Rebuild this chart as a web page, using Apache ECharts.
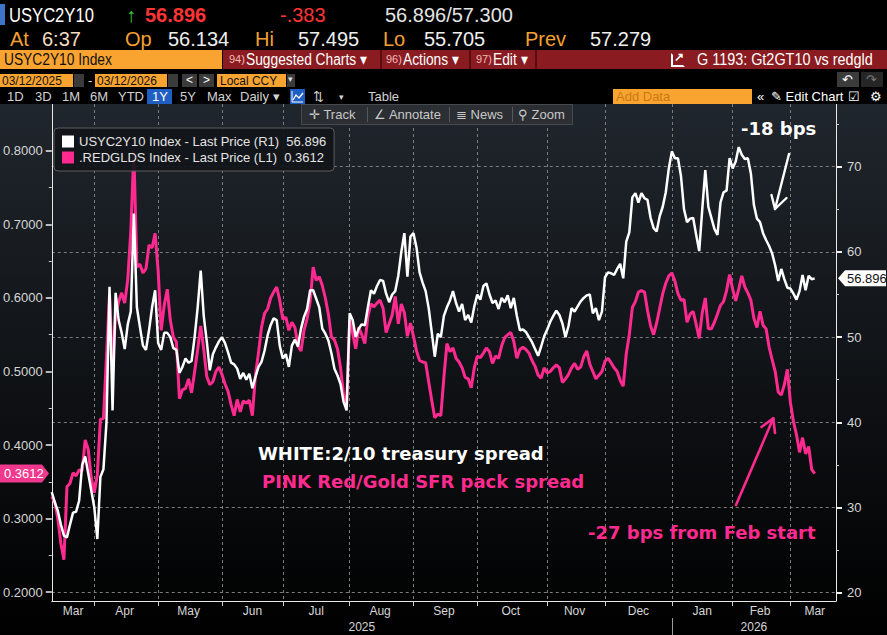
<!DOCTYPE html>
<html>
<head>
<meta charset="utf-8">
<title>USYC2Y10 vs REDGLDS</title>
<script src="https://cdn.jsdelivr.net/npm/echarts@6/dist/echarts.min.js"></script>
<style>
  html, body { margin: 0; padding: 0; background: #000; }
  body { width: 887px; height: 635px; position: relative; overflow: hidden;
         font-family: 'Liberation Sans', Arial, sans-serif; }
  .t { position: absolute; white-space: nowrap; line-height: 1; transform-origin: 0 50%; }
  .n { transform: scaleX(0.86); }
  .b { position: absolute; }
  .or { background: #f9a431; }
  .gr { background: #3b3b3b; }
  .row5 { font-size: 13px; color: #d2d2d2; top: 90px; }
  .trk { font-size: 13px; color: #c8c8c8; top: 108px; z-index: 6; }
  #chart { position: absolute; left: 0; top: 104px; width: 887px; height: 531px; }
  #tools { position: absolute; left: 301px; top: 104px; width: 272px; height: 21px; background: #2b2e32;
           border: 1px solid #46494d; box-sizing: border-box; z-index: 5; }
  .sep { position: absolute; top: 107px; width: 1px; height: 15px; background: #55595e; z-index: 6; }
</style>
</head>
<body>

<!-- ticker rows -->
<div class="b" style="left:0;top:4px;width:5px;height:21px;background:#3c74c9"></div>
<span class="t" style="left:9px;top:5px;font-size:20px;color:#fff;transform:scaleX(.83)">USYC2Y10</span>
<span class="t" style="left:126px;top:5px;font-size:20px;color:#35d035">↑</span>
<span class="t" style="left:145px;top:5px;font-size:20px;color:#ff3434;font-weight:bold">56.896</span>
<span class="t" style="left:280px;top:5px;font-size:20px;color:#ff3434">-.383</span>
<span class="t" style="left:385px;top:5px;font-size:20px;color:#e4e4e4">56.896/57.300</span>

<span class="t" style="left:10px;top:29px;font-size:20px;color:#f5a030">At</span>
<span class="t" style="left:42px;top:29px;font-size:20px;color:#f3dcc0">6:37</span>
<span class="t" style="left:125px;top:29px;font-size:20px;color:#f5a030">Op</span>
<span class="t" style="left:168px;top:29px;font-size:20px;color:#eee">56.134</span>
<span class="t" style="left:255px;top:29px;font-size:20px;color:#f5a030">Hi</span>
<span class="t" style="left:298px;top:29px;font-size:20px;color:#eee">57.495</span>
<span class="t" style="left:383px;top:29px;font-size:20px;color:#f5a030">Lo</span>
<span class="t" style="left:424px;top:29px;font-size:20px;color:#eee">55.705</span>
<span class="t" style="left:525px;top:29px;font-size:20px;color:#f5a030">Prev</span>
<span class="t" style="left:590px;top:29px;font-size:20px;color:#eee">57.279</span>

<!-- red command bar -->
<div class="b or" style="left:0;top:50px;width:222px;height:19px"></div>
<span class="t n" style="left:4px;top:52px;font-size:16px;color:#111">USYC2Y10 Index</span>
<div class="b" style="left:223px;top:50px;width:664px;height:19px;background:#8a1b20"></div>
<div class="b" style="left:380px;top:50px;width:2px;height:19px;background:#5b0c10"></div>
<div class="b" style="left:469px;top:50px;width:2px;height:19px;background:#5b0c10"></div>
<div class="b" style="left:535px;top:50px;width:2px;height:19px;background:#5b0c10"></div>
<span class="t" style="left:229px;top:54px;font-size:11px;color:#f4b9b9">94)</span>
<span class="t n" style="left:246px;top:52px;font-size:16px;color:#fff">Suggested Charts ▾</span>
<span class="t" style="left:386px;top:54px;font-size:11px;color:#f4b9b9">96)</span>
<span class="t n" style="left:403px;top:52px;font-size:16px;color:#fff">Actions ▾</span>
<span class="t" style="left:476px;top:54px;font-size:11px;color:#f4b9b9">97)</span>
<span class="t n" style="left:493px;top:52px;font-size:16px;color:#fff">Edit ▾</span>
<div class="b" style="left:671px;top:53px;width:10px;height:10px;border:2px solid #fff;border-top-color:transparent;border-right-color:transparent"></div>
<span class="t" style="left:674px;top:51px;font-size:12px;color:#fff;font-weight:bold">↗</span>
<span class="t" style="left:697px;top:52px;font-size:16px;color:#fff;transform:scaleX(.9)">G 1193: Gt2GT10 vs redgld</span>

<!-- date range row -->
<div class="b or" style="left:0;top:74px;width:73px;height:13px"></div>
<span class="t" style="left:2px;top:74px;font-size:13px;color:#111;transform:scaleX(.92)">03/12/2025</span>
<div class="b gr" style="left:74px;top:74px;width:10px;height:13px"></div>
<span class="t" style="left:88px;top:74px;font-size:13px;color:#ddd">-</span>
<div class="b or" style="left:95px;top:74px;width:72px;height:13px"></div>
<span class="t" style="left:97px;top:74px;font-size:13px;color:#111;transform:scaleX(.92)">03/12/2026</span>
<div class="b gr" style="left:168px;top:74px;width:10px;height:13px"></div>
<div class="b gr" style="left:182px;top:74px;width:15px;height:13px"></div>
<span class="t" style="left:186px;top:74px;font-size:12px;color:#fff">&lt;</span>
<div class="b gr" style="left:199px;top:74px;width:15px;height:13px"></div>
<span class="t" style="left:203px;top:74px;font-size:12px;color:#fff">&gt;</span>
<div class="b or" style="left:217px;top:74px;width:69px;height:13px"></div>
<span class="t" style="left:220px;top:74px;font-size:13px;color:#111;transform:scaleX(.92)">Local CCY</span>
<div class="b gr" style="left:287px;top:74px;width:8px;height:13px"></div>
<span class="t" style="left:288px;top:75px;font-size:9px;color:#ddd">▾</span>
<div class="b gr" style="left:837px;top:72px;width:22px;height:15px"></div>
<span class="t" style="left:842px;top:73px;font-size:13px;color:#fff">↶</span>
<div class="b" style="left:861px;top:72px;width:22px;height:15px;background:#262626"></div>
<span class="t" style="left:866px;top:73px;font-size:13px;color:#777">↷</span>

<!-- period row -->
<span class="t row5" style="left:7px">1D</span>
<span class="t row5" style="left:35px">3D</span>
<span class="t row5" style="left:62px">1M</span>
<span class="t row5" style="left:90px">6M</span>
<span class="t row5" style="left:118px">YTD</span>
<div class="b" style="left:147px;top:89px;width:25px;height:15px;background:#1f5fc4"></div>
<span class="t row5" style="left:152px;color:#fff">1Y</span>
<span class="t row5" style="left:180px">5Y</span>
<span class="t row5" style="left:207px">Max</span>
<span class="t row5" style="left:240px">Daily ▾</span>
<div class="b" style="left:290px;top:89px;width:15px;height:15px;background:#1f5fc4"></div>
<svg class="b" style="left:291px;top:90px" width="13" height="13"><polyline points="1,1 1,12 12,12" fill="none" stroke="#fff" stroke-width="1"/><polyline points="2,10 5,5 8,8 12,3" fill="none" stroke="#fff" stroke-width="1.3"/></svg>
<span class="t row5" style="left:313px">⇅</span>
<span class="t row5" style="left:339px;font-size:9px;top:93px">▾</span>
<span class="t row5" style="left:368px">Table</span>
<div class="b or" style="left:613px;top:89px;width:139px;height:15px"></div>
<span class="t row5" style="left:616px;color:#c97a12">Add Data</span>
<span class="t row5" style="left:757px;color:#fff">«</span>
<span class="t row5" style="left:771px;color:#fff">✎ Edit Chart</span>
<span class="t row5" style="left:848px;color:#fff">☑</span>
<span class="t row5" style="left:870px;color:#fff">⚙</span>

<div id="chart"></div>

<!-- chart tool strip -->
<div id="tools"></div>
<span class="t trk" style="left:309px">✛ Track</span>
<div class="sep" style="left:367px"></div>
<span class="t trk" style="left:374px">∠ Annotate</span>
<div class="sep" style="left:449px"></div>
<span class="t trk" style="left:456px">≣ News</span>
<div class="sep" style="left:512px"></div>
<span class="t trk" style="left:518px">⚲ Zoom</span>

<script>
// daily closes, 2025-03-12 .. 2026-03-12 (trading days)
var white = [
  31.8, 30.6, 29.6, 28.0, 26.7, 26.5, 28.0, 29.4, 29.5, 30.8,
  35.0, 36.0, 34.0, 32.0, 30.0, 26.3, 33.6, 34.5, 40.0, 55.9,
  41.4, 55.2, 52.0, 50.5, 48.6, 51.5, 53.0, 64.5, 53.5, 51.2,
  49.0, 48.5, 50.8, 53.5, 55.5, 49.3, 48.5, 50.5, 50.5, 50.0,
  48.7, 48.5, 45.8, 46.5, 47.5, 47.0, 47.2, 50.0, 53.5, 57.8,
  52.5, 49.5, 46.1, 48.0, 48.8, 49.5, 50.0, 49.3, 48.2, 47.0,
  46.8, 46.3, 45.1, 45.8, 45.0, 45.7, 44.0, 45.3, 46.5, 47.1,
  48.4, 50.2, 51.4, 52.2, 52.0, 49.0, 47.5, 48.0, 46.5, 49.0,
  49.7, 48.9, 51.0, 52.4, 53.3, 55.5, 55.5, 54.5, 53.5, 51.0,
  50.4, 49.6, 48.1, 46.3, 45.5, 44.5, 42.4, 41.4, 52.8, 52.0,
  50.0, 51.0, 51.5, 51.4, 53.5, 55.5, 55.1, 56.0, 56.7, 56.6,
  55.1, 54.1, 55.0, 55.4, 57.2, 60.0, 62.2, 57.1, 61.8, 62.2,
  60.5, 57.6, 56.4, 55.4, 53.4, 50.6, 47.7, 50.4, 50.0, 52.5,
  53.5, 54.3, 55.4, 54.0, 53.0, 53.9, 52.0, 52.6, 51.7, 53.6,
  55.0, 54.4, 56.0, 56.3, 55.0, 54.0, 54.3, 53.3, 54.6, 54.1,
  54.9, 53.4, 54.6, 52.5, 50.8, 50.9, 50.6, 50.0, 49.4, 48.6,
  47.8, 48.9, 50.1, 50.9, 51.8, 52.5, 53.1, 52.6, 51.6, 50.0,
  51.3, 53.4, 53.0, 53.6, 54.2, 54.6, 54.9, 55.0, 52.8, 53.4,
  52.0, 53.0, 57.0, 57.6, 57.5, 57.3, 58.0, 58.6, 56.9, 61.2,
  62.3, 66.4, 66.9, 65.8, 66.9, 66.3, 66.1, 64.0, 62.8, 62.4,
  64.2, 65.3, 67.0, 69.8, 71.8, 71.0, 71.0, 68.9, 65.0, 63.5,
  63.9, 64.0, 62.0, 60.1, 65.0, 69.6, 65.3, 64.0, 62.7, 62.0,
  65.8, 67.0, 67.2, 71.0, 69.8, 70.6, 72.3, 71.4, 70.9, 71.0,
  69.2, 65.5, 63.9, 63.5, 62.2, 61.4, 60.7, 59.8, 58.4, 56.6,
  58.0, 56.8, 55.8, 55.7, 55.1, 54.4, 55.4, 57.3, 55.5, 57.2,
  56.8, 56.896
];
var pink = [
  0.330, 0.322, 0.300, 0.266, 0.244, 0.343, 0.348, 0.362, 0.358, 0.366,
  0.365, 0.407, 0.394, 0.355, 0.335, 0.360, 0.435, 0.436, 0.520, 0.605,
  0.505, 0.577, 0.595, 0.607, 0.593, 0.625, 0.690, 0.800, 0.642, 0.646,
  0.634, 0.640, 0.672, 0.668, 0.688, 0.637, 0.556, 0.590, 0.612, 0.570,
  0.547, 0.540, 0.463, 0.475, 0.477, 0.490, 0.471, 0.500, 0.530, 0.562,
  0.530, 0.493, 0.482, 0.486, 0.500, 0.506, 0.496, 0.483, 0.473, 0.455,
  0.440, 0.462, 0.445, 0.460, 0.457, 0.461, 0.440, 0.495, 0.525, 0.560,
  0.579, 0.585, 0.600, 0.608, 0.615, 0.597, 0.571, 0.574, 0.556, 0.567,
  0.560, 0.535, 0.528, 0.556, 0.572, 0.595, 0.642, 0.624, 0.629, 0.617,
  0.600, 0.578, 0.547, 0.543, 0.531, 0.505, 0.468, 0.454, 0.570, 0.552,
  0.531, 0.560, 0.550, 0.538, 0.575, 0.592, 0.588, 0.593, 0.597, 0.586,
  0.553, 0.565, 0.577, 0.602, 0.565, 0.592, 0.580, 0.548, 0.566, 0.548,
  0.528, 0.515, 0.513, 0.512, 0.486, 0.461, 0.437, 0.442, 0.440, 0.492,
  0.538, 0.527, 0.532, 0.518, 0.513, 0.505, 0.492, 0.490, 0.478, 0.505,
  0.521, 0.519, 0.525, 0.532, 0.527, 0.511, 0.521, 0.518, 0.535, 0.546,
  0.550, 0.553, 0.541, 0.518, 0.530, 0.533, 0.530, 0.525, 0.515, 0.507,
  0.495, 0.491, 0.505, 0.498, 0.500, 0.505, 0.509, 0.505, 0.485, 0.490,
  0.496, 0.505, 0.511, 0.503, 0.506, 0.520, 0.528, 0.510, 0.500, 0.490,
  0.495, 0.500, 0.514, 0.518, 0.512, 0.505, 0.500, 0.488, 0.480, 0.524,
  0.550, 0.587, 0.595, 0.608, 0.610, 0.608, 0.583, 0.562, 0.550, 0.566,
  0.586, 0.606, 0.620, 0.630, 0.634, 0.623, 0.606, 0.597, 0.598, 0.567,
  0.578, 0.582, 0.564, 0.545, 0.580, 0.600, 0.558, 0.558, 0.567, 0.578,
  0.590, 0.595, 0.610, 0.632, 0.612, 0.596, 0.612, 0.630, 0.615, 0.607,
  0.597, 0.572, 0.560, 0.582, 0.563, 0.558, 0.533, 0.516, 0.500, 0.472,
  0.468, 0.482, 0.503, 0.458, 0.432, 0.414, 0.390, 0.410, 0.388, 0.398,
  0.367, 0.3612
];
var leftTicks = [0.2, 0.3, 0.4, 0.5, 0.6, 0.7, 0.8];
var leftMinor = [0.25, 0.35, 0.45, 0.55, 0.65, 0.75];
var rightTicks = [20, 30, 40, 50, 60, 70];
var rightMinor = [25, 35, 45, 55, 65, 75];
var monthNames = ['Jan', 'Feb', 'Mar', 'Apr', 'May', 'Jun', 'Jul', 'Aug', 'Sep', 'Oct', 'Nov', 'Dec'];
var holidays = ['2025-04-18', '2025-05-26', '2025-06-19', '2025-07-04', '2025-09-01',
                '2025-11-27', '2025-12-25', '2026-01-01', '2026-01-19', '2026-02-16'];

var whiteName = 'USYC2Y10 Index - Last Price (R1)';
var pinkName = '.REDGLDS Index - Last Price (L1)';
var pinkColor = '#ff2a8f';

// trading-day calendar, plus a few empty days of room on the right
var dates = [];
for (var d = new Date(Date.UTC(2025, 2, 12)); dates.length < 259; d.setUTCDate(d.getUTCDate() + 1)) {
  var s = d.toISOString().slice(0, 10);
  var wd = d.getUTCDay();
  if (wd === 0 || wd === 6 || holidays.indexOf(s) >= 0) continue;
  dates.push(s);
}

// month / year groups -> tick and label positions
function groups(len) {
  var starts = {}, mids = {}, g = 0;
  for (var i = 1; i <= dates.length; i++) {
    if (i === dates.length || dates[i].slice(0, len) !== dates[g].slice(0, len)) {
      mids[Math.round((g + i - 1) / 2)] = true;
      if (i < dates.length) starts[i] = true;
      g = i;
    }
  }
  return { starts: starts, mids: mids };
}
var months = groups(7);
var years = groups(4);

var lastWhite = white[white.length - 1];
var lastPink = pink[pink.length - 1];

var labelColor = '#d6d6d6';
var axisFont = 'Liberation Sans';
var gridDash = { color: '#7c7c7c', type: [3, 3], width: 1 };

var chart = echarts.init(document.getElementById('chart'), null, { renderer: 'svg' });

chart.setOption({
  animation: false,
  backgroundColor: {
    type: 'linear', x: 0, y: 0, x2: 0, y2: 1,
    colorStops: [{ offset: 0, color: '#20262d' }, { offset: 1, color: '#000000' }]
  },
  grid: { left: 50, right: 51, top: 0, bottom: 34 },
  legend: {
    left: 54, top: 24,
    orient: 'vertical',
    data: [whiteName, pinkName],
    icon: 'rect', itemWidth: 12, itemHeight: 12, itemGap: 3,
    padding: [7, 8, 7, 8],
    backgroundColor: 'rgba(17,21,25,0.92)',
    borderColor: '#5c5c5c', borderWidth: 1, borderRadius: 4,
    textStyle: { color: '#e4e4e4', fontSize: 13, fontFamily: axisFont },
    formatter: function (name) {
      return name + '  ' + (name === whiteName ? lastWhite.toFixed(3) : lastPink.toFixed(4));
    }
  },
  xAxis: [
    {
      type: 'category', data: dates, boundaryGap: false,
      axisLine: { lineStyle: { color: '#e8e8e8', width: 1 } },
      axisTick: { interval: function (i) { return !!months.starts[i]; }, length: 5, lineStyle: { color: '#cfcfcf' } },
      axisLabel: {
        interval: function (i) { return !!months.mids[i]; },
        formatter: function (v) { return monthNames[+v.slice(5, 7) - 1]; },
        color: labelColor, fontSize: 12, fontFamily: axisFont, margin: 4
      },
      splitLine: { show: true, interval: function (i) { return !!months.starts[i]; }, lineStyle: gridDash }
    },
    {
      type: 'category', data: dates, boundaryGap: false, position: 'bottom', offset: 17,
      axisLine: { show: false },
      axisTick: { interval: function (i) { return i > 0 && !!years.starts[i]; }, length: 17, lineStyle: { color: '#9a9a9a' } },
      axisLabel: {
        interval: function (i) { return !!years.mids[i]; },
        formatter: function (v) { return v.slice(0, 4); },
        color: labelColor, fontSize: 12, fontFamily: axisFont, margin: 3
      },
      splitLine: { show: false }
    }
  ],
  yAxis: [
    {
      type: 'value', position: 'left', min: 0.1878, max: 0.8639,
      axisLine: { show: true, lineStyle: { color: '#e8e8e8' } },
      axisTick: { show: true, customValues: leftTicks, length: 6, lineStyle: { color: '#f0f0f0', width: 1.5 } },
      axisLabel: {
        customValues: leftTicks, formatter: function (v) { return v.toFixed(4); },
        color: labelColor, fontSize: 13, fontFamily: axisFont, margin: 9
      },
      splitLine: { show: false }
    },
    {
      type: 'value', position: 'right', min: 19.03, max: 77.36,
      axisLine: { show: true, lineStyle: { color: '#e8e8e8' } },
      axisTick: { show: true, customValues: rightTicks, length: 6, lineStyle: { color: '#f0f0f0', width: 2 } },
      axisLabel: { customValues: rightTicks, color: labelColor, fontSize: 13, fontFamily: axisFont, margin: 11 },
      splitLine: { show: true, lineStyle: gridDash }
    },
    {
      type: 'value', position: 'left', min: 0.1878, max: 0.8639,
      axisLine: { show: false },
      axisTick: { show: true, customValues: leftMinor, length: 3, lineStyle: { color: '#cfcfcf' } },
      axisLabel: { show: false },
      splitLine: { show: false }
    },
    {
      type: 'value', position: 'right', min: 19.03, max: 77.36,
      axisLine: { show: false },
      axisTick: { show: true, customValues: rightMinor, length: 3, lineStyle: { color: '#cfcfcf' } },
      axisLabel: { show: false },
      splitLine: { show: false }
    }
  ],
  series: [
    {
      name: pinkName, type: 'line', yAxisIndex: 0, data: pink,
      showSymbol: false, color: pinkColor, z: 2,
      lineStyle: { color: pinkColor, width: 3 }
    },
    {
      name: whiteName, type: 'line', yAxisIndex: 1, data: white,
      showSymbol: false, color: '#ffffff', z: 3,
      lineStyle: { color: '#ffffff', width: 2.5 }
    }
  ]
});

// last-value tags sit on the axes at the series' last values
var yW = chart.convertToPixel({ yAxisIndex: 1 }, lastWhite);
var yP = chart.convertToPixel({ yAxisIndex: 0 }, lastPink);
var bold = '"DejaVu Sans", "Liberation Sans", sans-serif';

chart.setOption({
  graphic: [
    // annotations drawn on the chart
    { type: 'text', x: 741, y: 24, z: 50, style: { text: '-18 bps', fill: '#fff', fontSize: 18, fontWeight: 'bold', fontFamily: bold, verticalAlign: 'middle' } },
    { type: 'polyline', z: 50, shape: { points: [[789, 50], [775, 105]] }, style: { stroke: '#fff', lineWidth: 2.4, lineCap: 'round' } },
    { type: 'polyline', z: 50, shape: { points: [[771.5, 91], [775, 105], [786.5, 94]] }, style: { stroke: '#fff', lineWidth: 2.4, fill: null, lineCap: 'round', lineJoin: 'round' } },
    { type: 'text', x: 258, y: 349, z: 50, style: { text: 'WHITE:2/10 treasury spread', fill: '#fff', fontSize: 18, fontWeight: 'bold', fontFamily: bold, verticalAlign: 'middle' } },
    { type: 'text', x: 262, y: 377, z: 50, style: { text: 'PINK Red/Gold SFR pack spread', fill: pinkColor, fontSize: 18, fontWeight: 'bold', fontFamily: bold, verticalAlign: 'middle' } },
    { type: 'polyline', z: 50, shape: { points: [[736, 401], [773.3, 314.3]] }, style: { stroke: pinkColor, lineWidth: 2.6, lineCap: 'round' } },
    { type: 'polyline', z: 50, shape: { points: [[761.5, 323], [773.3, 314.3], [775, 329]] }, style: { stroke: pinkColor, lineWidth: 2.6, fill: null, lineCap: 'round', lineJoin: 'round' } },
    { type: 'text', x: 588, y: 428, z: 50, style: { text: '-27 bps from Feb start', fill: pinkColor, fontSize: 18, fontWeight: 'bold', fontFamily: bold, verticalAlign: 'middle' } },

    // right tag (white series)
    { type: 'polygon', z: 60, shape: { points: [[838, yW], [845, yW - 8], [886, yW - 8], [886, yW + 8], [845, yW + 8]] }, style: { fill: '#ffffff' } },
    { type: 'text', x: 847, y: yW, z: 61, style: { text: lastWhite.toFixed(3), fill: '#111', fontSize: 13, fontFamily: axisFont, verticalAlign: 'middle' } },
    // left tag (pink series)
    { type: 'polygon', z: 60, shape: { points: [[0, yP - 9], [42, yP - 9], [49, yP], [42, yP + 9], [0, yP + 9]] }, style: { fill: '#f0388e' } },
    { type: 'text', x: 4, y: yP, z: 61, style: { text: lastPink.toFixed(4), fill: '#fff', fontSize: 13, fontFamily: axisFont, verticalAlign: 'middle' } }
  ]
});
</script>
</body>
</html>
